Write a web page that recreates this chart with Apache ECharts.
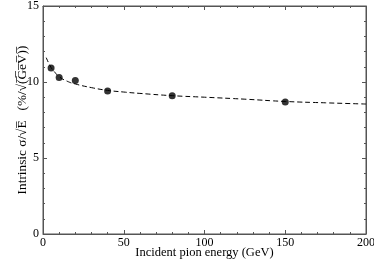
<!DOCTYPE html>
<html><head><meta charset="utf-8">
<script src="https://cdn.jsdelivr.net/npm/echarts@6/dist/echarts.min.js"></script>
<style>html,body{margin:0;padding:0;background:#fff}#c{width:374px;height:264px}</style>
</head><body><div id="c"></div>
<script>
const pointEnergy = [5, 10, 20, 40, 80, 150];
const pointSigma = [10.92, 10.3, 10.1, 9.41, 9.1, 8.68];
const curveEnergy = [2, 5, 7, 10, 15, 20, 30, 40, 50, 60, 80, 100, 125, 150, 175, 200];
const curveSigma = [11.6, 10.95, 10.68, 10.35, 10.05, 9.87, 9.63, 9.45, 9.34, 9.25, 9.1, 9.0, 8.87, 8.72, 8.63, 8.55];
const xTicks = [0, 50, 100, 150, 200];
const yTicks = [0, 5, 10, 15];

const font = 'Liberation Serif';
const chart = echarts.init(document.getElementById('c'));
function line() { return {show: true, onZero: false, lineStyle: {color: '#555', width: 1}}; }
function mkX(show) {
  return {
    type: 'value', min: 0, max: 200, interval: 50, position: show ? 'bottom' : 'top',
    name: show ? 'Incident pion energy (GeV)' : '', nameLocation: 'middle', nameGap: 12,
    nameMoveOverlap: false,
    nameTextStyle: {fontFamily: font, fontSize: 12.5, color: '#000', verticalAlign: 'top'},
    axisLine: line(),
    axisTick: {show: true, inside: true, length: 4, lineStyle: {color: '#555'}},
    minorTick: {show: true, splitNumber: 5, length: 2, lineStyle: {color: '#555'}},
    axisLabel: {show: show, fontFamily: font, fontSize: 12, color: '#000', margin: 3,
      formatter: v => xTicks.includes(v) ? String(v) : ''},
    splitLine: {show: false}
  };
}
function mkY(show) {
  return {
    type: 'value', min: 0, max: 15, interval: 5, position: show ? 'left' : 'right',
    name: show ? 'Intrinsic σ/√E̅   (%/√(̅G̅e̅V̅)̅)' : '', nameLocation: 'middle', nameGap: 14,
    nameMoveOverlap: false,
    nameTextStyle: {fontFamily: font, fontSize: 13.3, color: '#000', verticalAlign: 'bottom'},
    axisLine: line(),
    axisTick: {show: true, inside: true, length: 4, lineStyle: {color: '#555'}},
    minorTick: {show: true, splitNumber: 5, length: 2, lineStyle: {color: '#555'}},
    axisLabel: {show: show, fontFamily: font, fontSize: 12, color: '#000', margin: 4,
      formatter: v => yTicks.includes(v) ? String(v) : ''},
    splitLine: {show: false}
  };
}
chart.setOption({
  animation: false,
  grid: {left: 43, right: 8, top: 6, bottom: 30, containLabel: false, outerBoundsMode: 'none',
         show: true, borderColor: '#555', borderWidth: 1},
  xAxis: [mkX(true), mkX(false)],
  yAxis: [mkY(true), mkY(false)],
  series: [
    {type: 'line', data: curveEnergy.map((e, i) => [e, curveSigma[i]]), smooth: true, symbol: 'none',
     lineStyle: {color: '#000', width: 1, type: [5, 3]}},
    {type: 'scatter', data: pointEnergy.map((e, i) => [e, pointSigma[i]]), symbolSize: 7,
     itemStyle: {color: '#000'}},
    {type: 'scatter', xAxisIndex: 1, yAxisIndex: 1, data: [], silent: true}
  ]
});
</script></body></html>
